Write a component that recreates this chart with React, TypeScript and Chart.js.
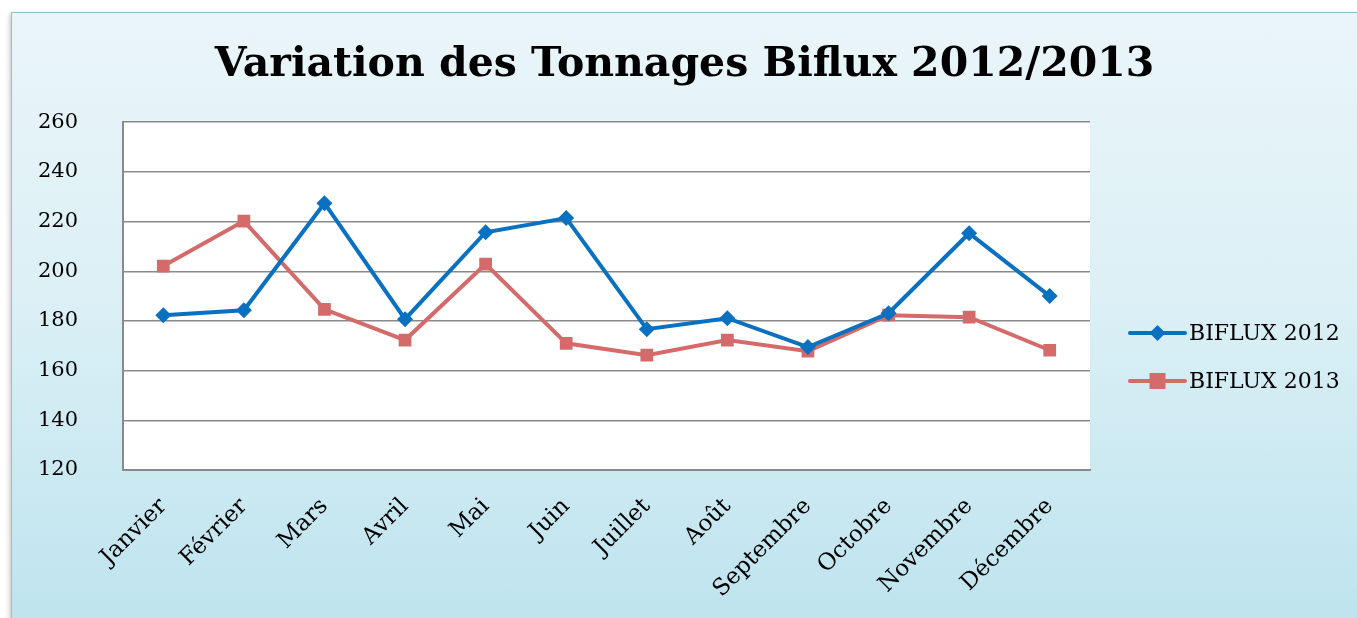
import React, { useEffect, useRef } from "react";
import { Chart, registerables } from "chart.js";
Chart.register(...registerables);

const months = ["Janvier", "Février", "Mars", "Avril", "Mai", "Juin", "Juillet", "Août", "Septembre", "Octobre", "Novembre", "Décembre"];
const biflux2012 = [182.3, 184.3, 227.4, 180.7, 215.7, 221.4, 176.7, 181.1, 169.5, 183.1, 215.3, 190.0];
const biflux2013 = [202.1, 220.2, 184.7, 172.3, 202.9, 171.0, 166.2, 172.3, 167.8, 182.3, 181.5, 168.2];
const seriesLabels = ["BIFLUX 2012", "BIFLUX 2013"];
const titleText = "Variation des Tonnages Biflux 2012/2013";
const yMin = 120;
const yMax = 260;
const yStep = 20;

const BLUE = "#0a70c0";
const RED = "#d46a6a";

const whiteArea = {
  id: "whiteArea",
  beforeDraw(chart: any) {
    const { ctx, chartArea } = chart;
    ctx.save();
    ctx.fillStyle = "#ffffff";
    ctx.fillRect(chartArea.left, chartArea.top, chartArea.right - chartArea.left, chartArea.bottom - chartArea.top);
    ctx.restore();
  },
};

const customLegend = {
  id: "customLegend",
  afterDraw(chart: any) {
    const { ctx } = chart;
    const x0 = 1118;
    const x1 = 1173;
    const rows = [320, 368];
    chart.data.datasets.forEach((ds: any, i: number) => {
      const y = rows[i];
      ctx.save();
      ctx.strokeStyle = ds.borderColor;
      ctx.lineWidth = 4;
      ctx.lineCap = "round";
      ctx.beginPath();
      ctx.moveTo(x0, y);
      ctx.lineTo(x1, y);
      ctx.stroke();
      ctx.fillStyle = ds.borderColor;
      const cx = (x0 + x1) / 2;
      if (ds.pointStyle === "rectRot") {
        const r = 8;
        ctx.beginPath();
        ctx.moveTo(cx, y - r);
        ctx.lineTo(cx + r, y);
        ctx.lineTo(cx, y + r);
        ctx.lineTo(cx - r, y);
        ctx.closePath();
        ctx.fill();
      } else {
        const s = 8;
        ctx.fillRect(cx - s, y - s, 2 * s, 2 * s);
      }
      ctx.fillStyle = "#000";
      ctx.font = "22px 'DejaVu Serif'";
      ctx.textBaseline = "middle";
      ctx.textAlign = "left";
      ctx.fillText(ds.label, x1 + 4, y + 1);
      ctx.restore();
    });
  },
};

export default function App() {
  const ref = useRef<HTMLCanvasElement | null>(null);
  useEffect(() => {
    if (!ref.current) return;
    const chart = new Chart(ref.current, {
      type: "line",
      data: {
        labels: months,
        datasets: [
          {
            label: seriesLabels[0],
            data: biflux2012,
            borderColor: BLUE,
            backgroundColor: BLUE,
            borderWidth: 4,
            pointStyle: "rectRot",
            pointRadius: 8,
            pointBorderWidth: 0,
            tension: 0,
          },
          {
            label: seriesLabels[1],
            data: biflux2013,
            borderColor: RED,
            backgroundColor: RED,
            borderWidth: 4,
            pointStyle: "rect",
            pointRadius: 9,
            pointBorderWidth: 0,
            tension: 0,
          },
        ],
      },
      options: {
        animation: false,
        responsive: false,
        maintainAspectRatio: false,
        layout: { padding: 0 },
        plugins: {
          legend: { display: false },
          tooltip: { enabled: false },
          title: {
            display: true,
            text: titleText,
            color: "#000",
            font: { family: "'DejaVu Serif'", weight: "bold", size: 41 },
            padding: { top: 28, bottom: 32 },
          },
        },
        scales: {
          x: {
            offset: true,
            grid: { display: false, drawTicks: false },
            border: { display: true, color: "#8a8a8a", width: 2 },
            ticks: {
              color: "#000",
              font: { family: "'DejaVu Serif'", size: 23 },
              minRotation: 45,
              maxRotation: 45,
              padding: 23,
              autoSkip: false,
            },
            afterFit(scale: any) {
              scale.height = 148;
            },
          },
          y: {
            min: yMin,
            max: yMax,
            grid: { color: "#8a8a8a", lineWidth: 1.5, drawTicks: false },
            border: { display: true, color: "#8a8a8a", width: 2 },
            ticks: {
              stepSize: yStep,
              color: "#000",
              font: { family: "'DejaVu Serif'", size: 21 },
              padding: 45,
            },
            afterFit(scale: any) {
              scale.width = 111;
            },
          },
          yRight: {
            position: "right",
            display: true,
            grid: { display: false, drawTicks: false },
            border: { display: false },
            ticks: { display: false },
            afterFit(scale: any) {
              scale.width = 267;
            },
          },
        },
      },
      plugins: [whiteArea, customLegend],
    } as any);
    return () => chart.destroy();
  }, []);

  return (
    <div style={{ position: "fixed", left: 0, top: 0, width: 1357, height: 618, background: "#fff", overflow: "hidden" }}>
      <div
        style={{
          position: "absolute",
          left: 11,
          top: 12,
          width: 1360,
          height: 620,
          border: "1px solid #9dbcc9",
          background: "linear-gradient(to bottom, #eaf5f9 0%, #dcf0f6 45%, #bde3ee 100%)",
          boxShadow: "-2px 2px 4px rgba(0,0,0,0.18)",
        }}
      >
        <canvas ref={ref} width={1345} height={605} style={{ display: "block", width: 1345, height: 605 }} />
      </div>
    </div>
  );
}
